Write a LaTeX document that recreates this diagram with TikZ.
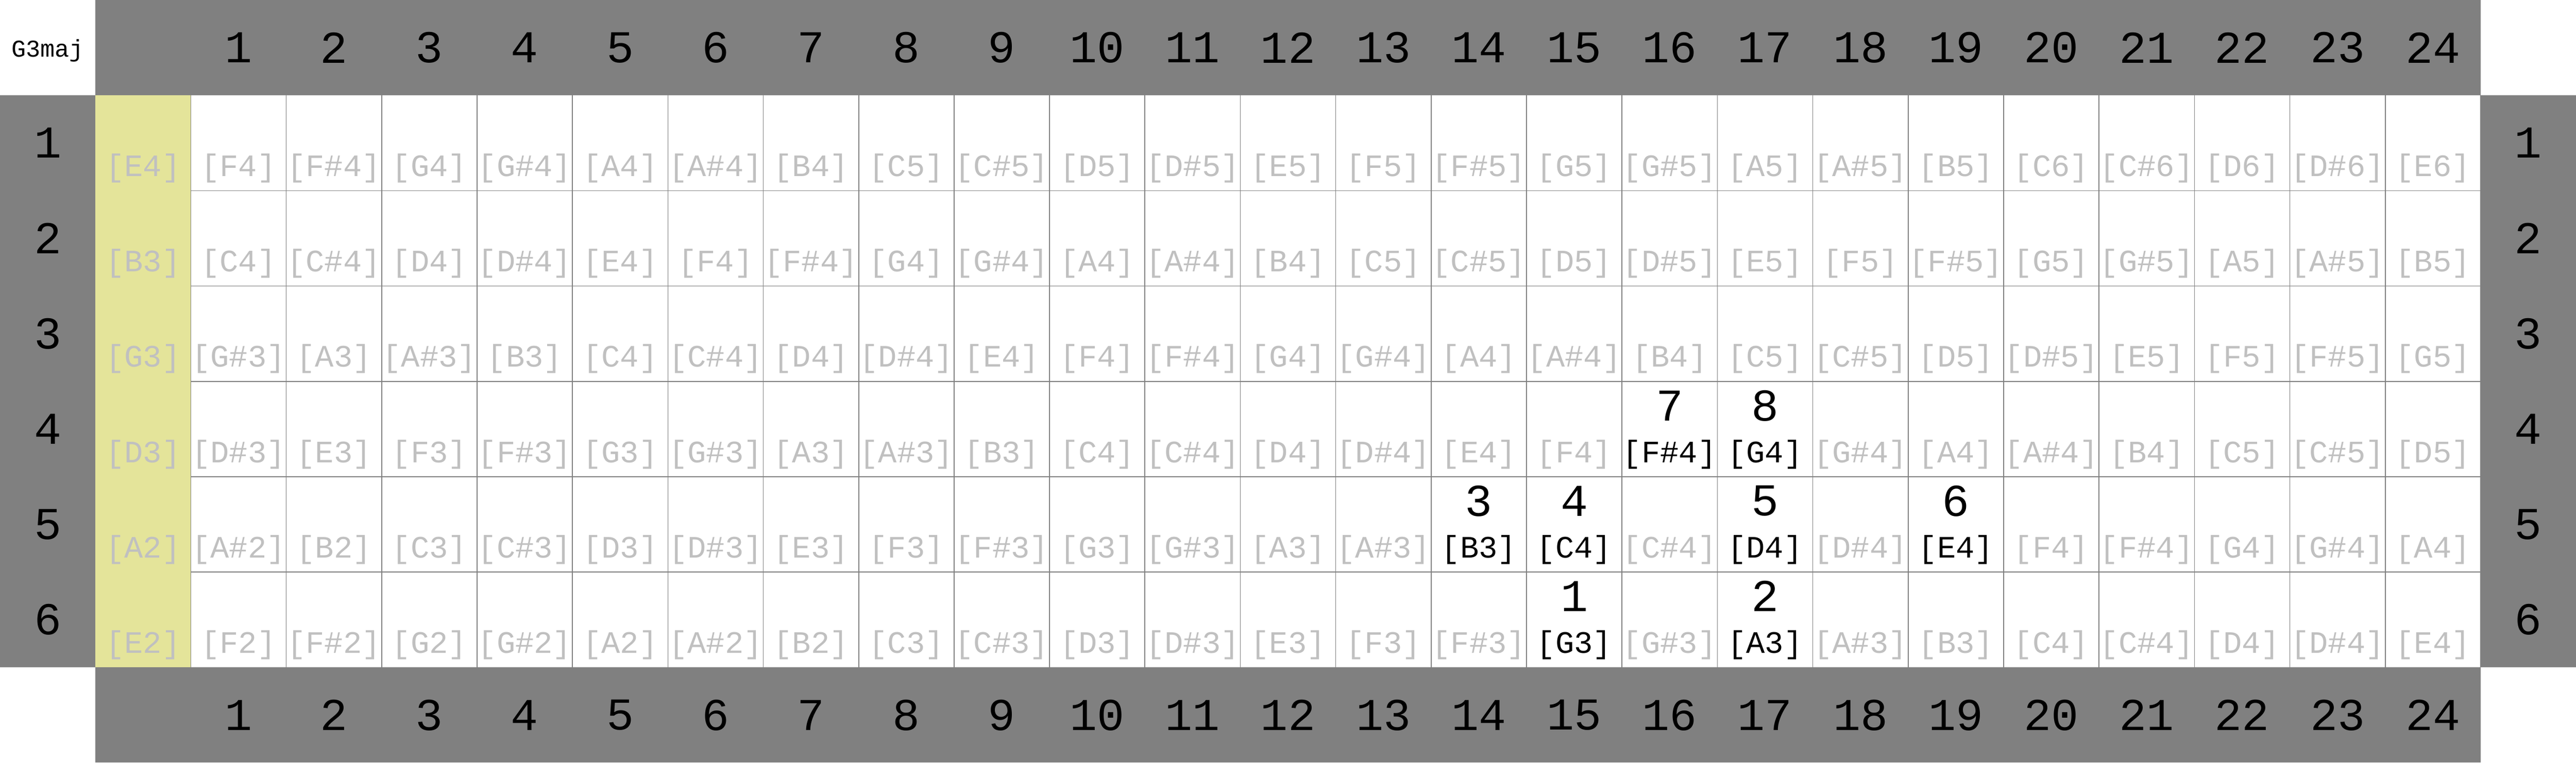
\documentclass[tikz,border=0pt]{standalone}
\usepackage{fontspec}
\setmonofont{Liberation Mono}
\definecolor{hdrgray}{HTML}{808080}
\definecolor{gridgray}{HTML}{808080}
\definecolor{notegray}{HTML}{C0C0C0}
\definecolor{openyellow}{HTML}{E4E49A}
\newcommand\myNoteName[1]{\ifcase#1 C\or C\#\or D\or D\#\or E\or F\or F\#\or G\or G\#\or A\or A\#\or B\fi}
\tikzset{
  hdrnum/.style={inner sep=0pt, font=\ttfamily\fontsize{13.6}{14}\selectfont, text=black},
  notelabel/.style={inner sep=0pt, font=\ttfamily\fontsize{9.3}{10}\selectfont},
  degnum/.style={inner sep=0pt, font=\ttfamily\fontsize{13.6}{14}\selectfont, text=black},
  titlelabel/.style={inner sep=0pt, font=\ttfamily\fontsize{7.2}{8}\selectfont, text=black, anchor=base},
  gridline/.style={draw=gridgray, line width=0.25pt}
}
\begin{document}
\begin{tikzpicture}[x=1cm,y=-1cm]
\useasboundingbox (0,0) rectangle (27,8);
\fill[white] (0,0) rectangle (27,8);
% open-string column
\fill[openyellow] (1,1) rectangle (2,7);
% grid
\foreach \x in {2,...,26} \draw[gridline] (\x,1) -- (\x,7);
\foreach \y in {2,...,6} \draw[gridline] (2,\y) -- (26,\y);
% headers
\fill[hdrgray] (1,0) rectangle (26,1);
\fill[hdrgray] (1,7) rectangle (26,8);
\fill[hdrgray] (0,1) rectangle (1,7);
\fill[hdrgray] (26,1) rectangle (27,7);
\node[titlelabel] (title) at (0.5,0.595) {G3maj};
\foreach \i in {1,...,24} {
  \node[hdrnum] (top-\i) at (\i+1.5,0.5) {\i};
  \node[hdrnum] (bot-\i) at (\i+1.5,7.5) {\i};
}
\foreach \s in {1,...,6} {
  \node[hdrnum] (left-\s) at (0.5,\s+0.5) {\s};
  \node[hdrnum] (right-\s) at (26.5,\s+0.5) {\s};
}
% note labels
\foreach \s/\open in {1/64,2/59,3/55,4/50,5/45,6/40} {
  \foreach \f in {0,...,24} {
    \pgfmathtruncatemacro\m{\open+\f}
    \pgfmathtruncatemacro\pc{mod(\m,12)}
    \pgfmathtruncatemacro\oc{floor(\m/12)-1}
    \pgfmathtruncatemacro\ishl{((\s==6)&&((\f==15)||(\f==17))) || ((\s==5)&&((\f==14)||(\f==15)||(\f==17)||(\f==19))) || ((\s==4)&&((\f==16)||(\f==17)))}
    \ifnum\ishl=1 \def\nc{black}\else\def\nc{notegray}\fi
    \node[notelabel, text=\nc] (n-\s-\f) at (\f+1.5,\s+0.765) {[\myNoteName{\pc}\oc]};
  }
}
% chord degrees
\foreach \d/\s/\f in {1/6/15,2/6/17,3/5/14,4/5/15,5/5/17,6/5/19,7/4/16,8/4/17} {
  \node[degnum] (deg-\d) at (\f+1.5,\s+0.255) {\d};
}
\end{tikzpicture}
\end{document}
